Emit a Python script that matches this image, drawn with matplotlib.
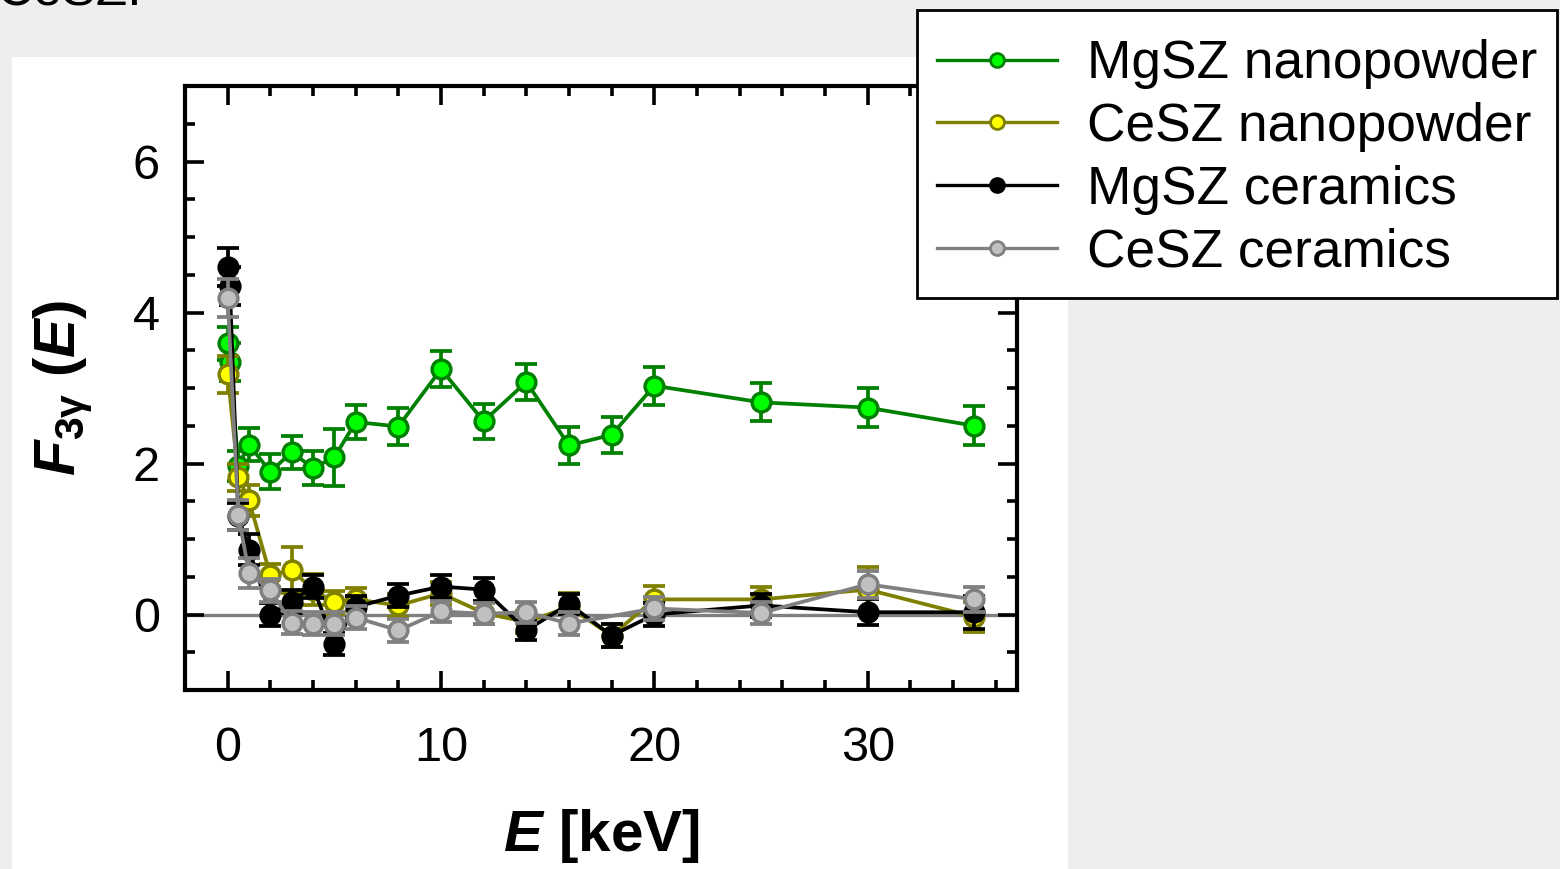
import matplotlib
matplotlib.use("Agg")
import matplotlib.pyplot as plt
from matplotlib.patches import Rectangle
from matplotlib.lines import Line2D
from matplotlib.ticker import MultipleLocator

plt.rcParams['font.family'] = ['Liberation Sans', 'DejaVu Sans']
plt.rcParams['mathtext.fontset'] = 'custom'
plt.rcParams['mathtext.rm'] = 'Liberation Sans'
plt.rcParams['mathtext.bf'] = 'Liberation Sans:bold'
plt.rcParams['mathtext.it'] = 'Liberation Sans:italic'
plt.rcParams['mathtext.bfit'] = 'Liberation Sans:bold:italic'

# ---------------- data ----------------
labels = ["MgSZ nanopowder", "CeSZ nanopowder", "MgSZ ceramics", "CeSZ ceramics"]

mg_nano_x = [0, 0.1, 0.5, 1, 2, 3, 4, 5, 6, 8, 10, 12, 14, 16, 18, 20, 25, 30, 35]
mg_nano_y = [3.59, 3.34, 1.97, 2.25, 1.89, 2.15, 1.94, 2.08, 2.55, 2.49, 3.25, 2.56,
             3.08, 2.24, 2.38, 3.03, 2.81, 2.74, 2.50]
mg_nano_err = [0.22, 0.25, 0.20, 0.22, 0.23, 0.22, 0.22, 0.38, 0.23, 0.24, 0.24, 0.23,
               0.24, 0.24, 0.24, 0.25, 0.25, 0.26, 0.26]

ce_nano_x = [0, 0.5, 1, 2, 3, 4, 5, 6, 8, 10, 12, 14, 16, 18, 20, 25, 30, 35]
ce_nano_y = [3.18, 1.82, 1.51, 0.52, 0.59, 0.33, 0.16, 0.20, 0.12, 0.28, 0.02, -0.10,
             0.10, -0.28, 0.20, 0.20, 0.33, -0.03]
ce_nano_err = [0.25, 0.18, 0.20, 0.15, 0.30, 0.20, 0.15, 0.15, 0.15, 0.15, 0.15, 0.15,
               0.18, 0.15, 0.18, 0.17, 0.30, 0.20]

mg_cer_x = [0, 0.1, 0.5, 1, 2, 3, 4, 5, 6, 8, 10, 12, 14, 16, 18, 20, 25, 30, 35]
mg_cer_y = [4.60, 4.35, 1.30, 0.86, 0.00, 0.17, 0.37, -0.39, 0.10, 0.25, 0.37, 0.33,
            -0.21, 0.14, -0.28, 0.00, 0.12, 0.03, 0.03]
mg_cer_err = [0.25, 0.25, 0.18, 0.20, 0.15, 0.15, 0.15, 0.15, 0.15, 0.15, 0.15, 0.15,
              0.13, 0.13, 0.15, 0.15, 0.15, 0.17, 0.22]

ce_cer_x = [0, 0.5, 1, 2, 3, 4, 5, 6, 8, 10, 12, 14, 16, 20, 25, 30, 35]
ce_cer_y = [4.19, 1.32, 0.55, 0.32, -0.11, -0.12, -0.12, -0.04, -0.21, 0.04, 0.01,
            0.03, -0.12, 0.08, 0.02, 0.40, 0.20]
ce_cer_err = [0.25, 0.20, 0.20, 0.15, 0.15, 0.15, 0.15, 0.15, 0.15, 0.14, 0.14, 0.14,
              0.15, 0.15, 0.15, 0.18, 0.17]

xticks = [0, 10, 20, 30]
yticks = [0, 2, 4, 6]

# ---------------- figure ----------------
W, H = 1560, 869
fig = plt.figure(figsize=(W / 100, H / 100), dpi=100)
fig.patch.set_facecolor('#eeeeee')
panel = Rectangle((12 / W, 0), (1068 - 12) / W, (H - 57) / H,
                  transform=fig.transFigure, facecolor='white',
                  edgecolor='none', zorder=-5)
fig.patches.append(panel)
fig.text(-4 / W, 1 - 6 / H, "CeSZ.", fontsize=37, va='baseline', ha='left')

ax = fig.add_axes([185 / W, (H - 690) / H, (1017 - 185) / W, (690 - 86) / H])
ax.set_zorder(2)
ax.set_facecolor('white')

ax.axhline(0, color='#808080', lw=2.4, zorder=1)

series = [
    (mg_nano_x, mg_nano_y, mg_nano_err, '#008000', '#00ff00', '#008000'),
    (ce_nano_x, ce_nano_y, ce_nano_err, '#808000', '#ffff00', '#808000'),
    (mg_cer_x, mg_cer_y, mg_cer_err, '#000000', '#000000', '#000000'),
    (ce_cer_x, ce_cer_y, ce_cer_err, '#808080', '#c0c0c0', '#808080'),
]
for i, (x, y, e, lc, fc, ec) in enumerate(series):
    ax.errorbar(x, y, yerr=e, fmt='none', ecolor=lc, elinewidth=2.7,
                capsize=8, capthick=2.7, zorder=2 + i * 2)
    ax.plot(x, y, '-', color=lc, lw=2.7, marker='o', markersize=13.5,
            markerfacecolor=fc, markeredgecolor=ec, markeredgewidth=2.5,
            zorder=3 + i * 2)

ax.set_xlim(-2, 37)
ax.set_ylim(-1, 7)
ax.set_xticks(xticks)
ax.set_yticks(yticks)
ax.xaxis.set_minor_locator(MultipleLocator(2))
ax.yaxis.set_minor_locator(MultipleLocator(0.5))
ax.tick_params(which='both', direction='in', top=True, right=True, width=2.6,
               labelsize=35)
ax.tick_params(which='major', length=14)
ax.tick_params(which='minor', length=7)
ax.tick_params(axis='x', which='major', pad=26)
ax.tick_params(axis='y', which='major', pad=18)
for s in ax.spines.values():
    s.set_linewidth(3)

ax.set_xlabel(r'$\mathbfit{E}$ [keV]', fontsize=42, fontweight='bold', labelpad=26)
ax.set_ylabel(r'$\mathbfit{F}_{\mathbf{3}\mathbf{\gamma}}$ ($\mathbfit{E}$)', fontsize=42,
              fontweight='bold', labelpad=28)

# legend box drawn separately for exact placement
box = Rectangle((917 / W, 1 - 298 / H), (1557 - 917) / W, (298 - 10) / H,
                transform=fig.transFigure, facecolor='white', edgecolor='black',
                linewidth=2, zorder=9)
fig.patches.append(box)

leg_handles = []
for (x, y, e, lc, fc, ec) in series:
    leg_handles.append(Line2D([], [], color=lc, lw=2.4, marker='o', markersize=10,
                              markerfacecolor=fc, markeredgecolor=ec,
                              markeredgewidth=2.0))
leg = fig.legend(leg_handles, labels, loc='upper left',
                 bbox_to_anchor=(917 / W, 1 - 19 / H), bbox_transform=fig.transFigure,
                 fontsize=38.3, frameon=False, borderaxespad=0,
                 handlelength=2.26, handletextpad=0.56, labelspacing=0.24,
                 borderpad=0.38)
leg.set_zorder(10)

fig.savefig('out.png', dpi=100, facecolor=fig.get_facecolor())
